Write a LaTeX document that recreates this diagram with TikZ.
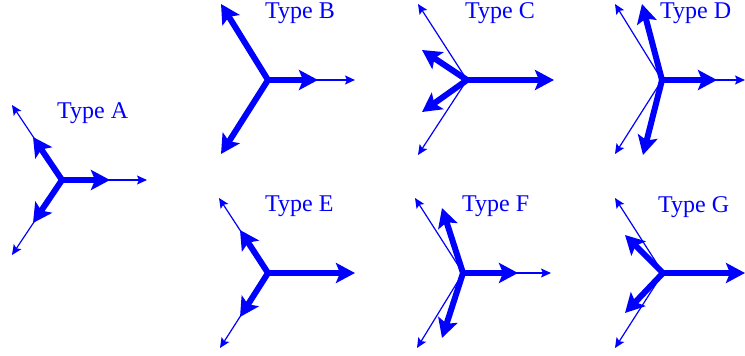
\documentclass[tikz,border=0pt]{standalone}
\usepackage{fontspec}
\setmainfont{Liberation Serif}
\usetikzlibrary{arrows.meta}
\definecolor{pblue}{RGB}{0,0,255}
\tikzset{
  during/.style={draw=pblue, line width=6pt, -{Stealth[length=19pt,width=20pt,inset=4pt]}},
  pre/.style={draw=pblue, line width=1.2pt, -{Stealth[length=10pt,width=9pt,inset=2pt]}},
  lbl/.style={text=pblue, inner sep=0pt, anchor=base west, font=\fontsize{24}{28}\selectfont}
}
\begin{document}
\begin{tikzpicture}[x=1pt,y=-1pt]
\useasboundingbox (0,0) rectangle (745,356);
% Type A
\coordinate (cA) at (62,180);
\coordinate (A1) at (147,180); \coordinate (A2) at (12,105); \coordinate (A3) at (12,255);
\coordinate (a1) at (110,180); \coordinate (a2) at (33,137); \coordinate (a3) at (33,223);
\foreach \p in {A1,A2,A3} \draw[pre] (cA) -- (\p);
\foreach \p in {a1,a2,a3} \draw[during] (cA) -- (\p);
\node[lbl] (tA) at (57,118) {Type A};
% Type B
\coordinate (cB) at (268,80);
\coordinate (B1) at (355,80);
\coordinate (b1) at (318,80); \coordinate (b2) at (221,4); \coordinate (b3) at (221,154);
\draw[pre] (cB) -- (B1);
\foreach \p in {b1,b2,b3} \draw[during] (cB) -- (\p);
\node[lbl] (tB) at (265,18) {Type B};
% Type C
\coordinate (cC) at (467,80);
\coordinate (C2) at (418,4); \coordinate (C3) at (418,155);
\coordinate (c1) at (554,80); \coordinate (c2) at (422,50); \coordinate (c3) at (422,112);
\foreach \p in {C2,C3} \draw[pre] (cC) -- (\p);
\foreach \p in {c1,c2,c3} \draw[during] (cC) -- (\p);
\node[lbl] (tC) at (465,18) {Type C};
% Type D
\coordinate (cD) at (662,80);
\coordinate (D1) at (745,80); \coordinate (D2) at (615,4); \coordinate (D3) at (615,154);
\coordinate (d1) at (717,80); \coordinate (d2) at (642,4); \coordinate (d3) at (643,155);
\foreach \p in {D1,D2,D3} \draw[pre] (cD) -- (\p);
\foreach \p in {d1,d2,d3} \draw[during] (cD) -- (\p);
\node[lbl] (tD) at (660,18) {Type D};
% Type E
\coordinate (cE) at (268,273);
\coordinate (E2) at (219,198); \coordinate (E3) at (220,348);
\coordinate (e1) at (355,273); \coordinate (e2) at (240,230); \coordinate (e3) at (240,317);
\foreach \p in {E2,E3} \draw[pre] (cE) -- (\p);
\foreach \p in {e1,e2,e3} \draw[during] (cE) -- (\p);
\node[lbl] (tE) at (265,211) {Type E};
% Type F
\coordinate (cF) at (463,273);
\coordinate (F1) at (551,273); \coordinate (F2) at (415,198); \coordinate (F3) at (417,348);
\coordinate (f1) at (518,273); \coordinate (f2) at (442,208); \coordinate (f3) at (442,338);
\foreach \p in {F1,F2,F3} \draw[pre] (cF) -- (\p);
\foreach \p in {f1,f2,f3} \draw[during] (cF) -- (\p);
\node[lbl] (tF) at (462,211) {Type F};
% Type G
\coordinate (cG) at (663,273);
\coordinate (G2) at (615,198); \coordinate (G3) at (615,348);
\coordinate (g1) at (745,273); \coordinate (g2) at (625,235); \coordinate (g3) at (625,313);
\foreach \p in {G2,G3} \draw[pre] (cG) -- (\p);
\foreach \p in {g1,g2,g3} \draw[during] (cG) -- (\p);
\node[lbl] (tG) at (658,212) {Type G};
\end{tikzpicture}
\end{document}
